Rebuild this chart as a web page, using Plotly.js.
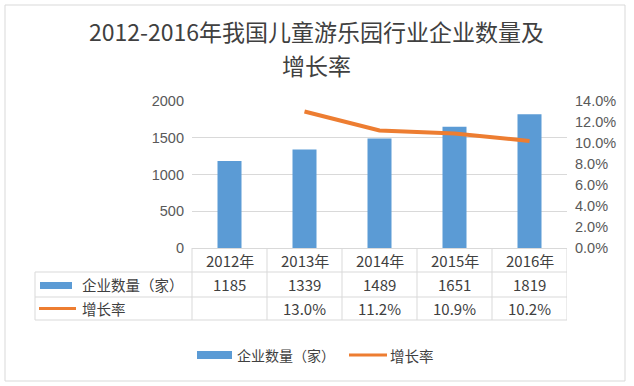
<!DOCTYPE html>
<html>
<head>
<meta charset="utf-8">
<script src="https://cdn.plot.ly/plotly-3.0.1.min.js"></script>
<style>html,body{margin:0;padding:0;background:#fff;}#chart{width:634px;height:386px;}</style>
</head>
<body>
<div id="chart"></div>
<script>
var years = ['2012年','2013年','2014年','2015年','2016年'];
var counts = [1185, 1339, 1489, 1651, 1819];
var growth = [null, 13.0, 11.2, 10.9, 10.2];
var seriesNames = ['企业数量（家）', '增长率'];
var titleLines = ['2012-2016年我国儿童游乐园行业企业数量及', '增长率'];

var FONT = '"Noto Sans CJK SC", "Microsoft YaHei", sans-serif';
var NUMFONT = '"Liberation Sans", Arial, sans-serif';
var BLUE = '#5B9BD5', ORANGE = '#ED7D31', GRID = '#d9d9d9', TXT = '#404040';
var L = 192, R = 567, T = 101, B = 248;
function px(x){ return (x - L) / (R - L); }
function py(y){ return (B - y) / (B - T); }

var shapes = [];
var annotations = [];
function hline(x0, x1, y){
  shapes.push({type:'line', xref:'paper', yref:'paper', x0:px(x0), x1:px(x1), y0:py(y), y1:py(y), line:{color:GRID, width:1}});
}
function vline(x, y0, y1){
  shapes.push({type:'line', xref:'paper', yref:'paper', x0:px(x), x1:px(x), y0:py(y0), y1:py(y1), line:{color:GRID, width:1}});
}
// outer border
shapes.push({type:'rect', xref:'paper', yref:'paper', x0:px(5), x1:px(625), y0:py(5), y1:py(381), line:{color:GRID, width:1}, fillcolor:'rgba(0,0,0,0)', layer:'below'});
// title, two lines
annotations.push({xref:'paper', yref:'paper', x:px(316), y:py(30.5), text:titleLines[0], showarrow:false, font:{family:FONT, size:23, color:TXT}, xanchor:'center', yanchor:'middle'});
annotations.push({xref:'paper', yref:'paper', x:px(316), y:py(64.5), text:titleLines[1], showarrow:false, font:{family:FONT, size:23, color:TXT}, xanchor:'center', yanchor:'middle'});
// table grid
hline(35, R, 272); hline(35, R, 297); hline(35, R, 320);
vline(35, 272, 320);
vline(L, B, 320);
for (var i = 0; i < years.length; i++) {
  shapes.push({type:'line', xref:'x', yref:'paper', x0:i+0.5, x1:i+0.5, y0:py(B), y1:py(320), line:{color:GRID, width:1}});
}
// table text
for (var i = 0; i < years.length; i++) {
  annotations.push({xref:'x', yref:'paper', x:i, y:py(260), text:years[i], showarrow:false, font:{family:FONT, size:15, color:TXT}, xanchor:'center', yanchor:'middle'});
  annotations.push({xref:'x', yref:'paper', x:i, y:py(284.5), text:String(counts[i]), showarrow:false, font:{family:FONT, size:15, color:TXT}, xanchor:'center', yanchor:'middle'});
  if (growth[i] !== null) {
    annotations.push({xref:'x', yref:'paper', x:i, y:py(308.5), text:growth[i].toFixed(1) + '%', showarrow:false, font:{family:FONT, size:15, color:TXT}, xanchor:'center', yanchor:'middle'});
  }
}
// table row legend keys
shapes.push({type:'rect', xref:'paper', yref:'paper', x0:px(40), x1:px(72), y0:py(282), y1:py(289), fillcolor:BLUE, line:{width:0}});
shapes.push({type:'line', xref:'paper', yref:'paper', x0:px(39), x1:px(76), y0:py(308.5), y1:py(308.5), line:{color:ORANGE, width:3}});
annotations.push({xref:'paper', yref:'paper', x:px(80), y:py(284.5), text:seriesNames[0], showarrow:false, font:{family:FONT, size:14.5, color:TXT}, xanchor:'left', yanchor:'middle'});
annotations.push({xref:'paper', yref:'paper', x:px(80), y:py(308.5), text:seriesNames[1], showarrow:false, font:{family:FONT, size:14.5, color:TXT}, xanchor:'left', yanchor:'middle'});
// bottom legend
shapes.push({type:'rect', xref:'paper', yref:'paper', x0:px(197), x1:px(232), y0:py(351), y1:py(359), fillcolor:BLUE, line:{width:0}});
shapes.push({type:'line', xref:'paper', yref:'paper', x0:px(349), x1:px(387), y0:py(355), y1:py(355), line:{color:ORANGE, width:3}});
annotations.push({xref:'paper', yref:'paper', x:px(235), y:py(355), text:seriesNames[0], showarrow:false, font:{family:FONT, size:14, color:TXT}, xanchor:'left', yanchor:'middle'});
annotations.push({xref:'paper', yref:'paper', x:px(388), y:py(355), text:seriesNames[1], showarrow:false, font:{family:FONT, size:14.5, color:TXT}, xanchor:'left', yanchor:'middle'});

var traces = [
  {type:'bar', x:years, y:counts, name:seriesNames[0], marker:{color:BLUE}, width:0.32, hoverinfo:'skip'},
  {type:'scatter', mode:'lines', x:years, y:growth, name:seriesNames[1], yaxis:'y2', line:{color:ORANGE, width:4}, connectgaps:false, hoverinfo:'skip'}
];

var layout = {
  width:634, height:386,
  margin:{l:L, r:634-R, t:T, b:386-B},
  paper_bgcolor:'#fff', plot_bgcolor:'#fff',
  showlegend:false,
  xaxis:{type:'category', range:[-0.5, 4.5], showticklabels:false, showgrid:false, zeroline:false, showline:true, linecolor:GRID, linewidth:1, ticks:'', fixedrange:true},
  yaxis:{range:[0,2000], dtick:500, tick0:0, showgrid:true, gridcolor:GRID, zeroline:false, showline:false, ticks:'', ticklabelstandoff:7, tickfont:{family:NUMFONT, size:14.5, color:'#595959'}, fixedrange:true},
  yaxis2:{overlaying:'y', side:'right', range:[0,14], dtick:2, tick0:0, ticksuffix:'%', tickformat:'.1f', showgrid:false, zeroline:false, showline:false, ticks:'', ticklabelstandoff:7, tickfont:{family:NUMFONT, size:14.5, color:'#595959'}, fixedrange:true},
  shapes:shapes,
  annotations:annotations
};

Plotly.newPlot('chart', traces, layout, {displayModeBar:false, staticPlot:true});
</script>
</body>
</html>
